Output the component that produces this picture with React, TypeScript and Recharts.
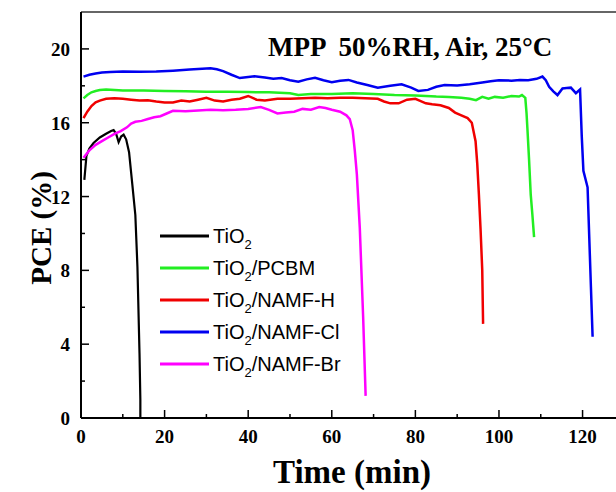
import { LineChart, Line, XAxis, YAxis, Legend, Label } from "recharts";

// time (min) / PCE (%)
const tio2Time = [0.8, 1.3, 2, 3, 4.5, 6, 7.2, 7.8, 8.4, 9, 9.6, 10.2, 10.8, 11.5, 12.3, 13, 13.5, 14, 14.2, 14.2];
const tio2Pce = [12.9, 14.2, 14.6, 14.9, 15.2, 15.4, 15.55, 15.6, 15.4, 14.95, 15.25, 15.35, 15.1, 14.4, 12.6, 11.0, 8.2, 3.5, 1.0, 0];

const pcbmTime = [0.6, 1.5, 2.5, 3.5, 4.5, 6, 8, 10, 15, 20, 25, 30, 35, 40, 45, 50, 52, 55, 60, 65, 70, 75, 80, 85, 88, 91, 93, 94.5, 96, 97.5, 99, 101, 103, 104.8, 105.5, 106.3, 106.6, 106.8, 107.2, 107.6, 108, 108.4];
const pcbmPce = [17.32, 17.5, 17.65, 17.72, 17.77, 17.8, 17.78, 17.75, 17.75, 17.72, 17.7, 17.68, 17.68, 17.66, 17.65, 17.6, 17.5, 17.55, 17.55, 17.6, 17.55, 17.5, 17.48, 17.42, 17.4, 17.35, 17.3, 17.22, 17.4, 17.3, 17.4, 17.35, 17.45, 17.42, 17.5, 17.35, 16.5, 15.7, 14.0, 12.1, 11.0, 9.8];

const namfHTime = [0.6, 1.5, 2.5, 3.5, 4.5, 6, 8, 10, 12, 14, 16, 18, 20, 22, 24, 26, 28, 30, 32, 34, 36, 38, 40, 42, 44, 47, 50, 53, 56, 59, 62, 65, 68, 71, 72.5, 74, 76, 78, 80, 81, 82.5, 84, 86, 88, 89.5, 91, 92.5, 93.5, 94.4, 94.8, 95.2, 95.6, 96, 96.2];
const namfHPce = [16.25, 16.6, 16.9, 17.1, 17.2, 17.3, 17.32, 17.3, 17.25, 17.2, 17.22, 17.15, 17.1, 17.1, 17.2, 17.15, 17.25, 17.35, 17.2, 17.15, 17.25, 17.3, 17.45, 17.25, 17.2, 17.3, 17.3, 17.32, 17.35, 17.32, 17.35, 17.35, 17.32, 17.3, 17.15, 17.05, 17.05, 17.25, 17.3, 17.2, 17.05, 17.0, 16.95, 16.8, 16.55, 16.4, 16.25, 16.0, 15.0, 13.8, 12.1, 10.2, 8.0, 5.1];

const namfClTime = [0.6, 2, 3.5, 5, 7, 10, 14, 18, 22, 26, 29, 31, 32.5, 34, 36, 38, 40, 41.5, 44, 46, 48, 50, 52, 54, 56, 58, 60, 62, 64, 66, 68.5, 71, 74, 76.7, 79, 80.7, 83, 85, 87, 90, 93, 96, 98, 100, 103, 105, 107, 109, 110.4, 111.2, 112, 113, 114, 115.2, 116.2, 117.2, 118.4, 119.4, 119.8, 120.2, 121.2, 121.6, 122, 122.4];
const namfClPce = [18.5, 18.6, 18.67, 18.72, 18.75, 18.78, 18.76, 18.78, 18.82, 18.88, 18.92, 18.95, 18.9, 18.8, 18.6, 18.42, 18.48, 18.52, 18.45, 18.38, 18.42, 18.3, 18.22, 18.35, 18.44, 18.3, 18.2, 18.28, 18.32, 18.18, 18.04, 17.9, 18.0, 18.08, 17.9, 17.72, 17.78, 17.95, 18.04, 18.02, 18.08, 18.18, 18.25, 18.3, 18.28, 18.32, 18.3, 18.38, 18.5, 18.3, 17.95, 17.7, 17.5, 17.86, 17.88, 17.9, 17.6, 17.8, 15.3, 13.4, 12.5, 9.8, 7.1, 4.4];

const namfBrTime = [0.6, 2, 3.5, 5, 6.5, 8, 9.5, 11, 12, 13, 14.5, 16, 17.5, 19, 20.5, 22, 25, 28, 31, 34, 37, 40, 43, 45, 47, 49, 51, 53, 55, 57, 58.5, 60, 62, 63.5, 64.3, 65, 65.5, 66, 66.7, 67.5, 68.1];
const namfBrPce = [14.1, 14.5, 14.8, 15.0, 15.2, 15.4, 15.55, 15.75, 15.95, 16.05, 16.1, 16.2, 16.3, 16.35, 16.5, 16.65, 16.62, 16.66, 16.7, 16.68, 16.7, 16.75, 16.85, 16.7, 16.5, 16.55, 16.6, 16.75, 16.7, 16.85, 16.8, 16.7, 16.6, 16.4, 16.2, 15.6, 14.5, 13.2, 10.3, 5.5, 1.2];

const xTicks = [0, 10, 20, 30, 40, 50, 60, 70, 80, 90, 100, 110, 120];
const yTicks = [0, 2, 4, 6, 8, 10, 12, 14, 16, 18, 20];

const zip = (t: number[], v: number[]) => t.map((x, i) => ({ t: x, v: v[i] }));

const series = [
  { name: "TiO2", suffix: "", color: "#000000", width: 2.2, data: zip(tio2Time, tio2Pce) },
  { name: "TiO2/PCBM", suffix: "/PCBM", color: "#22ee22", width: 2.5, data: zip(pcbmTime, pcbmPce) },
  { name: "TiO2/NAMF-H", suffix: "/NAMF-H", color: "#f00000", width: 2.5, data: zip(namfHTime, namfHPce) },
  { name: "TiO2/NAMF-Cl", suffix: "/NAMF-Cl", color: "#0000f0", width: 2.5, data: zip(namfClTime, namfClPce) },
  { name: "TiO2/NAMF-Br", suffix: "/NAMF-Br", color: "#ff00ff", width: 2.5, data: zip(namfBrTime, namfBrPce) },
];

const SERIF = '"Liberation Serif", "Times New Roman", serif';
const SANS = '"Liberation Sans", Arial, sans-serif';

const XTick = (props: any) => {
  const { x, y, payload } = props;
  const major = payload.value % 20 === 0;
  return (
    <g>
      <line x1={x} y1={y} x2={x} y2={y - (major ? 8 : 4)} stroke="#000" strokeWidth={1.5} />
      {major && (
        <text x={x} y={y + 25} textAnchor="middle" fontFamily={SERIF} fontWeight="bold" fontSize={19} fill="#000">
          {payload.value}
        </text>
      )}
    </g>
  );
};

const YTick = (props: any) => {
  const { x, y, payload } = props;
  const major = payload.value % 4 === 0;
  return (
    <g>
      <line x1={x} y1={y} x2={x + (major ? 8 : 4)} y2={y} stroke="#000" strokeWidth={1.5} />
      {major && (
        <text x={x - 11} y={y + 7} textAnchor="end" fontFamily={SERIF} fontWeight="bold" fontSize={19} fill="#000">
          {payload.value}
        </text>
      )}
    </g>
  );
};

const LegendBox = () => (
  <div style={{ fontFamily: SANS, fontSize: 20, color: "#000" }}>
    {series.map((s) => (
      <div key={s.name} style={{ height: 32, display: "flex", alignItems: "center" }}>
        <svg width={49} height={4} style={{ marginRight: 4 }}>
          <line x1={0} y1={2} x2={49} y2={2} stroke={s.color} strokeWidth={3} />
        </svg>
        <span style={{ lineHeight: 1 }}>
          TiO<span style={{ fontSize: 13, position: "relative", top: 6 }}>2</span>
          {s.suffix}
        </span>
      </div>
    ))}
  </div>
);

export default function App() {
  return (
    <div style={{ position: "absolute", left: 0, top: 0, width: 616, height: 492, background: "#fff" }}>
      <LineChart width={616} height={492} margin={{ top: 11, right: 0, bottom: 44, left: 0 }}>
        <XAxis
          type="number"
          dataKey="t"
          domain={[0, 128]}
          ticks={xTicks}
          interval={0}
          height={30}
          tickSize={0}
          tickMargin={0}
          tick={<XTick />}
          tickLine={false}
          axisLine={{ stroke: "#000", strokeWidth: 2 }}
          allowDataOverflow
        >
          <Label
            content={() => (
              <text x={352} y={483} textAnchor="middle" fontFamily={SERIF} fontWeight="bold" fontSize={33} fill="#000">
                Time (min)
              </text>
            )}
          />
        </XAxis>
        <XAxis
          xAxisId="top"
          orientation="top"
          type="number"
          domain={[0, 128]}
          height={1}
          tick={false}
          tickLine={false}
          axisLine={{ stroke: "#333", strokeWidth: 1.5 }}
        />
        <YAxis
          type="number"
          domain={[0, 22]}
          ticks={yTicks}
          interval={0}
          width={81}
          tickSize={0}
          tickMargin={0}
          tick={<YTick />}
          tickLine={false}
          axisLine={{ stroke: "#000", strokeWidth: 2 }}
          allowDataOverflow
        >
          <Label
            content={() => (
              <text
                transform="translate(51,228) rotate(-90)"
                textAnchor="middle"
                fontFamily={SERIF}
                fontWeight="bold"
                fontSize={29}
                fill="#000"
              >
                PCE (%)
              </text>
            )}
          />
        </YAxis>
        <Legend
          layout="vertical"
          align="center"
          verticalAlign="middle"
          content={<LegendBox />}
          wrapperStyle={{ position: "absolute", left: 160, top: 220, width: "auto", height: "auto", bottom: "auto" }}
        />
        {series.map((s) => (
          <Line
            key={s.name}
            name={s.name}
            data={s.data}
            dataKey="v"
            type="linear"
            stroke={s.color}
            strokeWidth={s.width}
            dot={false}
            isAnimationActive={false}
          />
        ))}
      </LineChart>
      <div
        style={{
          position: "absolute",
          left: 268,
          top: 34,
          fontFamily: SERIF,
          fontWeight: "bold",
          fontSize: 27,
          lineHeight: 1,
          whiteSpace: "pre",
          color: "#000",
        }}
      >
        {"MPP  50%RH, Air, 25°C"}
      </div>
    </div>
  );
}
